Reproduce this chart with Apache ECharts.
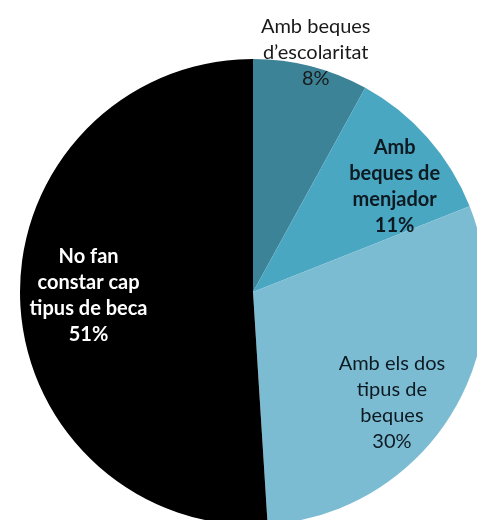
<!DOCTYPE html>
<html>
<head>
<meta charset="utf-8">
<script src="https://cdn.jsdelivr.net/npm/echarts@6/dist/echarts.min.js"></script>
<style>
html,body{margin:0;padding:0;background:#fff;}
#chart{width:477px;height:520px;}
</style>
</head>
<body>
<div id="chart"></div>
<script>
// Data
const categories = [
  "Amb beques\nd\u2019escolaritat",
  "Amb\nbeques de\nmenjador",
  "Amb els dos\ntipus de\nbeques",
  "No fan\nconstar cap\ntipus de beca"
];
const values = [8, 11, 30, 51];

// Styles (kept separate from data)
const sliceColors = ["#3d8397", "#4aa7c2", "#7cbcd3", "#000000"];
const labelColors = ["#1a1a1a", "#0d1a22", "#0d1a22", "#ffffff"];
const labelWeights = ["normal", "bold", "normal", "bold"];
const labelOffsets = [[33, -124], [52, -26], [38, 47], [-45, 0]];

const chart = echarts.init(document.getElementById('chart'), null, {renderer: 'canvas'});
const data = categories.map((name, i) => ({
  name: name,
  value: values[i],
  itemStyle: {color: sliceColors[i]},
  label: {
    color: labelColors[i],
    fontWeight: labelWeights[i],
    offset: labelOffsets[i]
  }
}));

chart.setOption({
  animation: false,
  series: [{
    type: 'pie',
    center: [253, 292],
    radius: [0, 233],
    startAngle: 90,
    clockwise: true,
    avoidLabelOverlap: false,
    itemStyle: {borderWidth: 0},
    label: {
      show: true,
      position: 'inside',
      fontFamily: 'Lato',
      fontSize: 20,
      lineHeight: 26,
      align: 'center',
      formatter: p => p.name + '\n' + p.value + '%'
    },
    labelLine: {show: false},
    emphasis: {disabled: true},
    data: data
  }]
});
</script>
</body>
</html>
